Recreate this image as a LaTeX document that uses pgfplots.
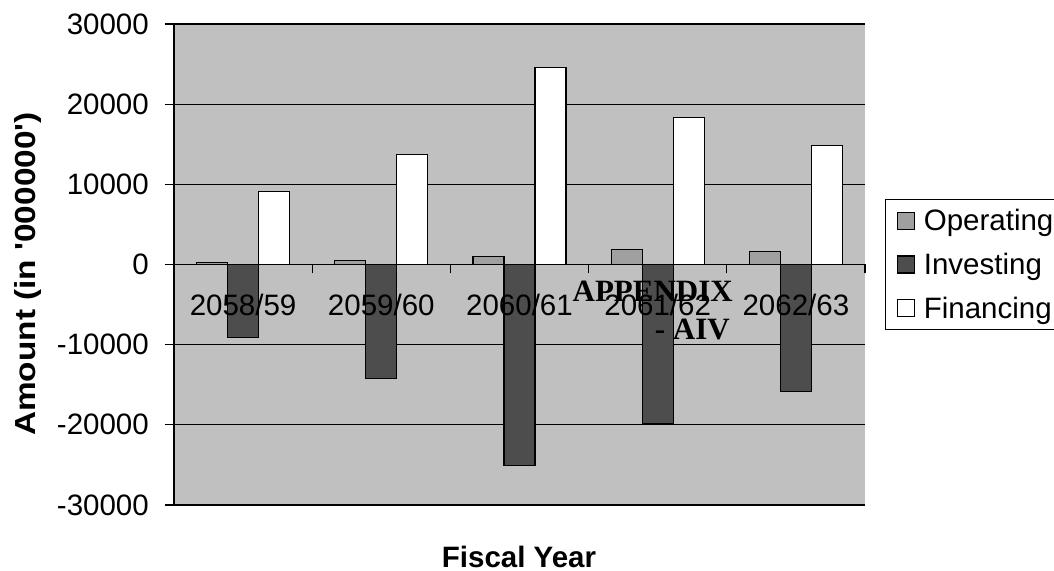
\documentclass[border=0pt]{standalone}
\usepackage{pgfplots}
\pgfplotsset{compat=1.18}
\usepackage{fontspec}
\setmainfont{Liberation Sans}
\newfontfamily\timesfont{Liberation Serif}
\definecolor{plotbg}{HTML}{C0C0C0}
\definecolor{opcol}{HTML}{A0A0A0}
\definecolor{invcol}{HTML}{4D4D4D}
\pgfplotsset{
  layers/mylayers/.define layer set={axis background,axis grid,main,axis ticks,axis lines,axis tick labels,axis descriptions,axis foreground}{/pgfplots/layers/standard},
  myleg/.style={legend image code/.code={\draw[##1,line width=1.2bp] (0bp,-8.5bp) rectangle (17bp,8.5bp);}}
}
\begin{document}
\begin{tikzpicture}
\begin{axis}[
  set layers=mylayers,
  scale only axis,
  width=691bp, height=481bp,
  xmin=-0.5, xmax=4.5,
  ymin=-30000, ymax=30000,
  scaled y ticks=false,
  axis x line*=middle,
  axis y line*=left,
  axis line style={line width=1.3bp, black},
  axis background/.style={fill=plotbg},
  ymajorgrids,
  grid style={line width=1.3bp, black},
  ytick={-30000,-20000,-10000,0,10000,20000,30000},
  yticklabels={-30000,-20000,-10000,0,10000,20000,30000},
  xtick={-0.5,0.5,1.5,2.5,3.5,4.5},
  xticklabels={},
  extra x ticks={0,1,2,3,4},
  extra x tick labels={2058/59,2059/60,2060/61,2061/62,2062/63},
  extra x tick style={major tick length=0pt, grid=none},
  xtick align=outside,
  ytick align=outside,
  tick style={line width=1.3bp, black},
  major tick length=9bp,
  tick label style={font=\fontsize{29.5bp}{34bp}\selectfont, inner sep=0pt},
  yticklabel style={xshift=-16bp},
  xticklabel style={anchor=north, yshift=-29bp},
  ybar=0pt,
  bar width=0.224,
  legend style={at={(1.029,0.5)}, anchor=west, draw=black, line width=1.2bp, fill=white,
    font=\fontsize{29.5bp}{34bp}\selectfont, inner xsep=11bp, inner ysep=8bp, row sep=17bp,
    column sep=7bp, cells={anchor=west}},
  legend cell align=left,
]
\addplot[fill=opcol, draw=black, line width=1.2bp, myleg] coordinates {(0,250) (1,460) (2,960) (3,1840) (4,1590)};
\addplot[fill=invcol, draw=black, line width=1.2bp, myleg] coordinates {(0,-9080) (1,-14200) (2,-25080) (3,-19790) (4,-15800)};
\addplot[fill=white, draw=black, line width=1.2bp, myleg] coordinates {(0,9080) (1,13680) (2,24600) (3,18330) (4,14850)};
\legend{Operating,Investing,Financing}
\end{axis}
\node[rotate=90, xscale=1.15, anchor=center, font=\fontsize{29bp}{34bp}\selectfont\bfseries] at (-146bp,231bp) {Amount (in \textquotesingle 000000\textquotesingle)};
\node[anchor=center, inner sep=0pt, font=\fontsize{29.5bp}{34bp}\selectfont\bfseries] at (345bp,-52bp) {Fiscal Year};
\node[anchor=base east, inner sep=0pt, font=\fontsize{31bp}{34bp}\selectfont\timesfont\bfseries] at (559bp,203bp) {APPENDIX};
\node[anchor=base east, inner sep=0pt, font=\fontsize{31bp}{34bp}\selectfont\timesfont\bfseries] at (556bp,165bp) {- AIV};
\pgfresetboundingbox
\path[use as bounding box] (-174bp,-66bp) rectangle (880bp,505bp);
\end{tikzpicture}
\end{document}
